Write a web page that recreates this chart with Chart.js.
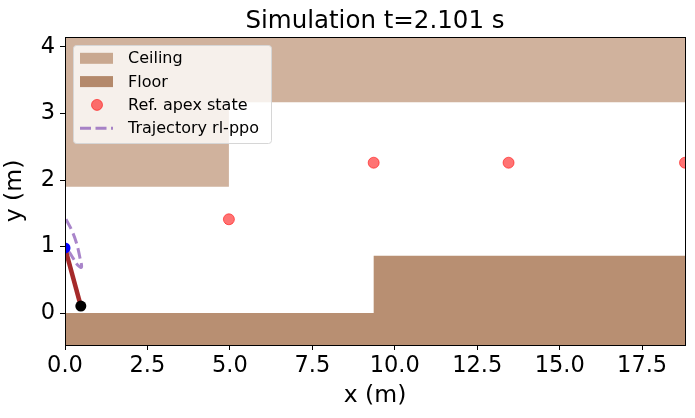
<!DOCTYPE html>
<html>
<head>
<meta charset="utf-8">
<script src="https://cdn.jsdelivr.net/npm/chart.js@4.4.0/dist/chart.umd.min.js"></script>
<style>
  html, body { margin: 0; padding: 0; background: #fff; }
  #wrap { width: 695px; height: 418px; }
</style>
</head>
<body>
<div id="wrap"><canvas id="sim"></canvas></div>
<script>
// limites de los ejes
const xMin = 0, xMax = 18.8;
const yMin = -0.48, yMax = 4.15;
const xTickStep = 2.5, yTickStep = 1;

// techo y suelo (contorno)
const ceilingX = [0, 4.97, 4.97, 18.8];
const ceilingY = [1.9, 1.9, 3.17, 3.17];
const floorX = [0, 9.36, 9.36, 18.8];
const floorY = [0, 0, 0.86, 0.86];

// estados de apex de referencia
const apexX = [4.97, 9.36, 13.45, 18.8];
const apexY = [1.41, 2.26, 2.26, 2.26];

// trayectoria rl-ppo
const trajX = [0.03, 0.2, 0.35, 0.45, 0.5, 0.39, 0.24, 0.15, 0.06];
const trajY = [1.41, 1.25, 1.05, 0.84, 0.69, 0.72, 0.83, 0.9, 0.96];

// pierna: cadera -> pie
const legX = [0, 0.48];
const legY = [0.98, 0.105];

const pts = (xs, ys) => xs.map((x, i) => ({ x: x, y: ys[i] }));

const colCeiling = '#d0b29d';
const colFloor = '#b88f72';
const colApex = 'rgba(255, 0, 0, 0.55)';
const colTraj = 'rgba(148, 103, 189, 0.8)';
const fontFam = '"DejaVu Sans", sans-serif';

// leyenda dentro del area (estilo matplotlib)
const legendItems = [
  { label: 'Ceiling', kind: 'patch', color: '#c9a890' },
  { label: 'Floor', kind: 'patch', color: '#b4896b' },
  { label: 'Ref. apex state', kind: 'point', color: colApex },
  { label: 'Trajectory rl-ppo', kind: 'dash', color: colTraj }
];

const insideLegend = {
  id: 'insideLegend',
  afterDatasetsDraw(chart) {
    const ctx = chart.ctx, a = chart.chartArea;
    const bx = a.left + 8, by = a.top + 8, bw = 198, bh = 98;
    ctx.save();
    ctx.beginPath();
    ctx.roundRect(bx + 0.5, by + 0.5, bw, bh, 3);
    ctx.fillStyle = 'rgba(255,255,255,0.8)';
    ctx.fill();
    ctx.strokeStyle = '#d6d6d6';
    ctx.lineWidth = 1;
    ctx.stroke();
    ctx.font = '16px ' + fontFam;
    ctx.textBaseline = 'middle';
    legendItems.forEach((it, i) => {
      const cy = by + 13.3 + i * 23.3;
      const sx = bx + 7;
      if (it.kind === 'patch') {
        ctx.fillStyle = it.color;
        ctx.fillRect(sx, cy - 5.5, 33, 11);
      } else if (it.kind === 'point') {
        ctx.beginPath();
        ctx.arc(sx + 17, cy, 5.5, 0, Math.PI * 2);
        ctx.fillStyle = it.color;
        ctx.fill();
        ctx.strokeStyle = it.color;
        ctx.lineWidth = 1;
        ctx.stroke();
      } else {
        ctx.beginPath();
        ctx.setLineDash([11, 4.5]);
        ctx.moveTo(sx, cy);
        ctx.lineTo(sx + 33, cy);
        ctx.strokeStyle = it.color;
        ctx.lineWidth = 3;
        ctx.stroke();
        ctx.setLineDash([]);
      }
      ctx.fillStyle = '#000';
      ctx.fillText(it.label, bx + 55, cy + 1);
    });
    ctx.restore();
  }
};

// marco negro y titulo
const frameAndTitle = {
  id: 'frameAndTitle',
  afterDraw(chart) {
    const ctx = chart.ctx, a = chart.chartArea;
    ctx.save();
    ctx.strokeStyle = '#000';
    ctx.lineWidth = 1;
    ctx.strokeRect(a.left + 0.5, a.top + 0.5, a.right - a.left, a.bottom - a.top);
    ctx.fillStyle = '#000';
    ctx.font = '24.5px ' + fontFam;
    ctx.textAlign = 'center';
    ctx.textBaseline = 'alphabetic';
    ctx.fillText('Simulation t=2.101 s', (a.left + a.right) / 2, 28);
    ctx.restore();
  }
};

const datos = {
  datasets: [
    {
      label: 'foot', data: pts([legX[1]], [legY[1]]),
      pointRadius: 5.5, pointBackgroundColor: '#000', pointBorderWidth: 0, clip: 0
    },
    {
      label: 'hip', data: pts([legX[0]], [legY[0]]),
      pointRadius: 5.5, pointBackgroundColor: '#0000ff', pointBorderWidth: 0, clip: 0
    },
    {
      label: 'leg', data: pts(legX, legY), showLine: true,
      borderColor: '#a52a2a', borderWidth: 4.5, pointRadius: 0, clip: 0
    },
    {
      label: 'Ref. apex state', data: pts(apexX, apexY),
      pointRadius: 5.5, pointBackgroundColor: colApex, pointBorderColor: colApex,
      pointBorderWidth: 1, clip: 0
    },
    {
      label: 'Trajectory rl-ppo', data: pts(trajX, trajY), showLine: true,
      borderColor: colTraj, borderWidth: 3, borderDash: [11, 4.5], pointRadius: 0,
      tension: 0.4, clip: 0
    },
    {
      label: 'Floor', data: pts(floorX, floorY), showLine: true,
      borderWidth: 0, pointRadius: 0, fill: 'start', backgroundColor: colFloor
    },
    {
      label: 'Ceiling', data: pts(ceilingX, ceilingY), showLine: true,
      borderWidth: 0, pointRadius: 0, fill: 'end', backgroundColor: colCeiling
    }
  ]
};

new Chart(document.getElementById('sim'), {
  type: 'scatter',
  data: datos,
  options: {
    responsive: true,
    maintainAspectRatio: false,
    animation: false,
    layout: { padding: { top: 37, right: 10, left: 0, bottom: 0 } },
    plugins: {
      legend: { display: false },
      tooltip: { enabled: false },
      title: { display: false }
    },
    scales: {
      x: {
        type: 'linear', min: xMin, max: xMax,
        afterFit(s) { s.height = 73; },
        ticks: {
          stepSize: xTickStep, includeBounds: false, color: '#000', padding: 3,
          font: { family: fontFam, size: 22.5 },
          callback: v => v.toFixed(1), maxRotation: 0
        },
        grid: { display: true, drawOnChartArea: false, drawTicks: true, tickLength: 5, color: '#000' },
        border: { display: true, color: '#000' },
        title: { display: true, text: 'x (m)', color: '#000', font: { family: fontFam, size: 23.5 }, padding: { top: 0, bottom: 8 } }
      },
      y: {
        type: 'linear', min: yMin, max: yMax,
        afterFit(s) { s.width = 65; },
        ticks: {
          stepSize: yTickStep, includeBounds: false, color: '#000', padding: 5,
          font: { family: fontFam, size: 22.5 },
          callback: v => String(v)
        },
        grid: { display: true, drawOnChartArea: false, drawTicks: true, tickLength: 5, color: '#000' },
        border: { display: true, color: '#000' },
        title: { display: true, text: 'y (m)', color: '#000', font: { family: fontFam, size: 23.5 }, padding: { top: 1, bottom: 0 } }
      }
    }
  },
  plugins: [insideLegend, frameAndTitle]
});
</script>
</body>
</html>
